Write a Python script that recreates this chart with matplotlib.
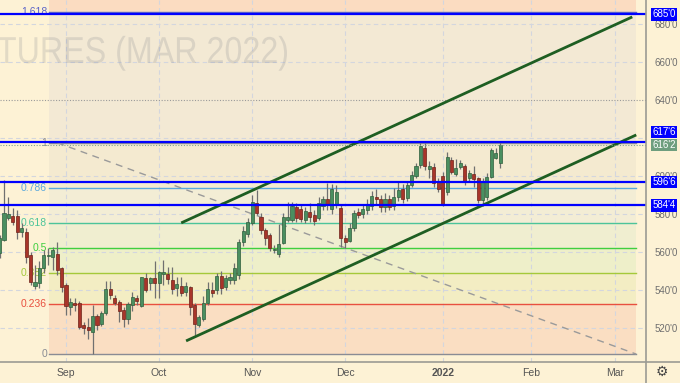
import numpy as np
import matplotlib
matplotlib.use('Agg')
import matplotlib.pyplot as plt
from matplotlib.lines import Line2D
from matplotlib.textpath import TextPath
from matplotlib.patches import PathPatch
from matplotlib.font_manager import FontProperties
from matplotlib.transforms import Affine2D, IdentityTransform

plt.rcParams['font.family'] = ['Liberation Sans', 'DejaVu Sans']

# daily bars, bar index 0 = 1 Sep 2021
first_idx = -15
opens = [559.5, 566.3, 578, 579, 579, 570.5, 570.5, 558.4, 542, 543.7, 551.6, 558, 557.4, 559, 551.6,
         542.6, 531, 533.2, 533, 521.6, 520.5, 517.9, 526.3, 522, 527.9, 540.5, 535.8, 533.7, 529.5, 524.7,
         532, 536, 531.6, 546.3, 543.7, 546.3, 543.7, 548.4, 548.4, 545.3, 541, 542, 539, 541.6, 532,
         521.6, 524.7, 533.2, 540, 540, 547.4, 541.6, 545.3, 545.3, 548, 565.3, 569.5, 575.3, 585.8, 578.4,
         571.6, 569, 561.1, 559, 564.7, 576.8, 576.8, 583.7, 582.6, 576.8, 581.1, 579.5, 577.9, 584.2, 587.9,
         582.6, 585, 583, 567.5, 566, 572.5, 581, 580, 582, 584, 589, 588, 583.5, 588, 584,
         589, 593, 588.5, 595, 600, 606, 614.7, 603.7, 604.7, 597, 600, 591.5, 608.5, 601, 604.5,
         605.5, 599, 601, 599, 587.5, 589, 599.5, 609.5, 607]
highs = [569, 598, 589, 583, 582, 575, 572.6, 560, 553, 555, 561, 562, 562.6, 565, 552,
         543.7, 536, 536, 534, 523, 525, 532, 527.5, 529, 544.7, 544.7, 537.4, 534.7, 531, 533.7,
         539, 537.5, 547, 549, 547, 555, 550, 555.8, 552, 552, 546.8, 547, 544, 542, 533,
         526.8, 537, 544, 544, 549, 550, 548, 549, 554, 567, 573.5, 578, 590, 592.6, 580.5,
         572.6, 570, 563.7, 574.7, 580.5, 586.3, 586.3, 585.8, 585, 583.7, 585.8, 582, 589, 589.5, 596.3,
         596, 595, 585, 569, 575, 582, 583, 585, 588, 592, 593, 590, 591, 590, 593.5,
         597, 596, 597.5, 602.5, 607, 617.5, 617.5, 608, 607, 599, 602, 612.5, 610, 609, 608.5,
         606.5, 603, 605, 599.5, 599, 601.5, 614.5, 614.5, 618]
lows = [557, 566, 577, 574, 567, 568, 554, 542.6, 540.5, 541, 549, 553, 550.5, 548, 539,
        527, 527, 529, 519.5, 517, 514, 506.3, 519, 521, 527, 535, 532, 523, 520.5, 522,
        529, 532, 531, 539, 540, 535.8, 536, 542.6, 543, 538, 537, 537, 537, 527, 516.3,
        520.5, 523.7, 532, 536.3, 538, 538, 540, 543, 543, 546, 563, 568, 574, 579.5, 569.5,
        563.7, 560.5, 559.5, 557.4, 564, 576, 575.8, 576, 575.8, 575, 575.8, 574, 576.8, 582, 582,
        580, 583, 562.5, 562, 565, 571, 578, 578, 580, 582, 585, 581, 581, 582, 582,
        587, 586, 587, 594, 599, 604, 603, 599, 594, 591.5, 584, 590, 601, 600, 603.5,
        595, 597, 594, 585.8, 584, 587.4, 599, 609, 604]
closes = [567.4, 580.5, 580, 575.8, 570.5, 572.6, 557.4, 544.2, 544, 551.6, 558.4, 558.5, 561, 550.5, 541.6,
          531.6, 533.7, 532.1, 520.5, 520, 519, 526.3, 521.6, 527.9, 540.5, 537.4, 533.2, 529, 524.7, 532.6,
          536.3, 534, 546.8, 540, 546.3, 543.7, 549.5, 549.5, 545.8, 540.5, 543.2, 538.4, 542, 531.1, 522,
          525.8, 533.2, 540.5, 538.5, 547.4, 541.1, 546.3, 546.8, 551.6, 565.3, 571, 576, 586.3, 580.5, 571.6,
          567.4, 562.1, 561.6, 564.2, 578.4, 578.4, 584.2, 577.9, 577.4, 581.6, 578.4, 576.3, 585.8, 587.9, 584.7,
          593.2, 591.5, 567.5, 565.5, 572.5, 580.5, 579.5, 582.5, 584.5, 589.5, 588, 583.5, 588, 583.5, 589,
          592.5, 588, 595.5, 600.5, 605, 616, 605.3, 605.3, 596.3, 593, 585.5, 610, 602, 604, 607,
          597, 601.5, 598.5, 587.5, 597, 599.5, 613.5, 612, 616.25]

month_idx = [0, 21, 42, 63, 85, 105, 124]
month_lbl = ['Sep', 'Oct', 'Nov', 'Dec', '2022', 'Feb', 'Mar']
price_ticks = list(range(520, 700, 20))

# trend based fib drawing
fib_low, fib_high = 506.25, 617.5
fib_span = [-3.8, 128.7]
fib_trend_x = [-2.0, 128.7]
fib_levels = [0, 0.236, 0.382, 0.5, 0.618, 0.786, 1, 1.618, 2.618]
fib_names = ['0', '0.236', '0.382', '0.5', '0.618', '0.786', '1', '1.618', '2.618']
fib_colors = ['#8a8c94', '#e8503f', '#a5c93a', '#3fcf3f', '#4cc49a', '#5aa8dc', '#8a8c94', '#5a64c8', '#f44336']
fib_fill = [0, 0.12, 0.11, 0.08, 0.07, 0.06, 0.07, 0.06, 0.12]

# channel
chan_x = [26.0, 127.8]
chan_up = [575.3, 683.7]
chan_lo_x = [27.1, 128.7]
chan_lo = [513.2, 621.6]

# horizontal levels
hlines = [685.0, 617.75, 596.75, 584.5]
hlbls = ["685'0", "617'6", "596'6", "584'4"]
last_px = 616.25
last_lbl = "616'2"
dotted_lvl = 640.0
watermark = 'CORN FUTURES (MAR 2022)'

bg = '#fdf2d5'
W, H = 680, 383
fig = plt.figure(figsize=(W/100, H/100), dpi=100, facecolor=bg)
ax = fig.add_axes([0, 21/H, 646/W, 362/H])
ax.set_facecolor(bg)
ax.set_xlim(-14.9, 130.9)
ax.set_ylim(502.1, 692.6)
ppu = 362 / (692.6 - 502.1)  # pixels per price unit

# fib bands & lines
fx = np.array(fib_span)
prices = [fib_low + lv*(fib_high - fib_low) for lv in fib_levels]
for k in range(1, len(prices)):
    ax.fill_between(fx, prices[k-1], prices[k], color=fib_colors[k], alpha=fib_fill[k], lw=0, zorder=1)
for k in range(len(prices) - 1):
    ax.plot(fx, [prices[k]]*2, color=fib_colors[k], lw=1, zorder=3)
    ax.annotate(fib_names[k], (fx[0], prices[k]), xytext=(-1.5, 0), textcoords='offset points',
                ha='right', va='center', fontsize=7.5, color=fib_colors[k], zorder=3)
ax.plot(fib_trend_x, [fib_high, fib_low], color='#9a9a9a', lw=1, ls=(0, (5, 4)), zorder=3)

# grid
for m in month_idx:
    ax.axvline(m, color='#d3d6de', lw=0.8, ls=(0, (4, 3)), zorder=2)
for t in price_ticks:
    if t != dotted_lvl:
        ax.axhline(t, color='#d3d6de', lw=0.8, ls=(0, (4, 3)), zorder=2)
ax.axhline(dotted_lvl, color='#9a9a9a', lw=0.8, ls=(0, (1, 1.5)), zorder=2)

# watermark, squeezed sideways like the narrow UI font
tp = TextPath((0, 0), watermark, size=37.5, prop=FontProperties(family='Liberation Sans'))
ext = tp.get_extents()
wm_tf = Affine2D().translate(-ext.x1, 0).scale(0.86, 1).translate(287, H - 63)
ax.add_patch(PathPatch(wm_tf.transform_path(tp), transform=IdentityTransform(), fc='#787b86',
                       ec='none', alpha=0.2, zorder=2))

# candles
idx = np.arange(first_idx, first_idx + len(opens))
o = np.array(opens); h = np.array(highs); l = np.array(lows); c = np.array(closes)
up = c >= o
ax.vlines(idx, l, h, color='#707070', lw=0.9, zorder=4)
body_lo = np.minimum(o, c)
body_h = np.maximum(np.abs(c - o), 0.6)
ax.bar(idx[up], body_h[up], 0.7, bottom=body_lo[up], color='#4a8f60', edgecolor='#2f5e3c', lw=0.5, zorder=5)
ax.bar(idx[~up], body_h[~up], 0.7, bottom=body_lo[~up], color='#a8352a', edgecolor='#6e2219', lw=0.5, zorder=5)

# channel lines
ax.plot(chan_x, chan_up, color='#1e5e22', lw=2.0, solid_capstyle='butt', zorder=6)
ax.plot(chan_lo_x, chan_lo, color='#1e5e22', lw=2.0, solid_capstyle='butt', zorder=6)

# blue levels + last price
for v in hlines:
    ax.axhline(v, color='#0000ff', lw=1.6, zorder=7)
ax.axhline(last_px, color='#7fa58c', lw=0.8, ls=(0, (1, 1.5)), zorder=6)

# price labels on axis (push overlapping ones apart)
gap = 13.0
labs = [(v, s, '#0000ff') for v, s in zip(hlines, hlbls)] + [(last_px, last_lbl, '#6e9e7e')]
labs.sort(key=lambda t: t[0])
placed = []
for v, s, col in labs:
    y = v
    if placed and (y - placed[-1]) * ppu < gap:
        y = placed[-1] + gap / ppu
    placed.append(y)
    ax.annotate(s, (1, y), xycoords=ax.get_yaxis_transform(), xytext=(4.5, 0), textcoords='offset points',
                ha='left', va='center', fontsize=7, color='white', annotation_clip=False, zorder=10,
                bbox=dict(boxstyle='square,pad=0.12', fc=col, ec='none'))

# axes styling; tick labels sitting right under a price box are hidden, as on the chart
for s in ax.spines.values():
    s.set_visible(False)
ax.yaxis.tick_right()
ax.set_yticks(price_ticks)
ax.set_yticklabels(["" if min(abs(t - p) for p in placed) * ppu < 6 else "%d'0" % t
                    for t in price_ticks])
ax.tick_params(axis='y', length=0, pad=6, labelsize=7, labelcolor='#6f6f6f')
ax.set_xticks(month_idx)
ax.set_xticklabels(month_lbl)
ax.tick_params(axis='x', length=0, pad=4, labelsize=7.5, labelcolor='#555555')
ax.get_xticklabels()[4].set_fontweight('bold')

# panel separators
fig.add_artist(Line2D([646/W, 646/W], [0, 1], color='#9b9b93', lw=1.2))
fig.add_artist(Line2D([0, 1], [21/H, 21/H], color='#9b9b93', lw=1.2))
fig.text(662/W, 11/H, '\u2699', ha='center', va='center', fontsize=10, color='#444444',
         family='DejaVu Sans')

fig.savefig('out.png', dpi=100, facecolor=bg)
